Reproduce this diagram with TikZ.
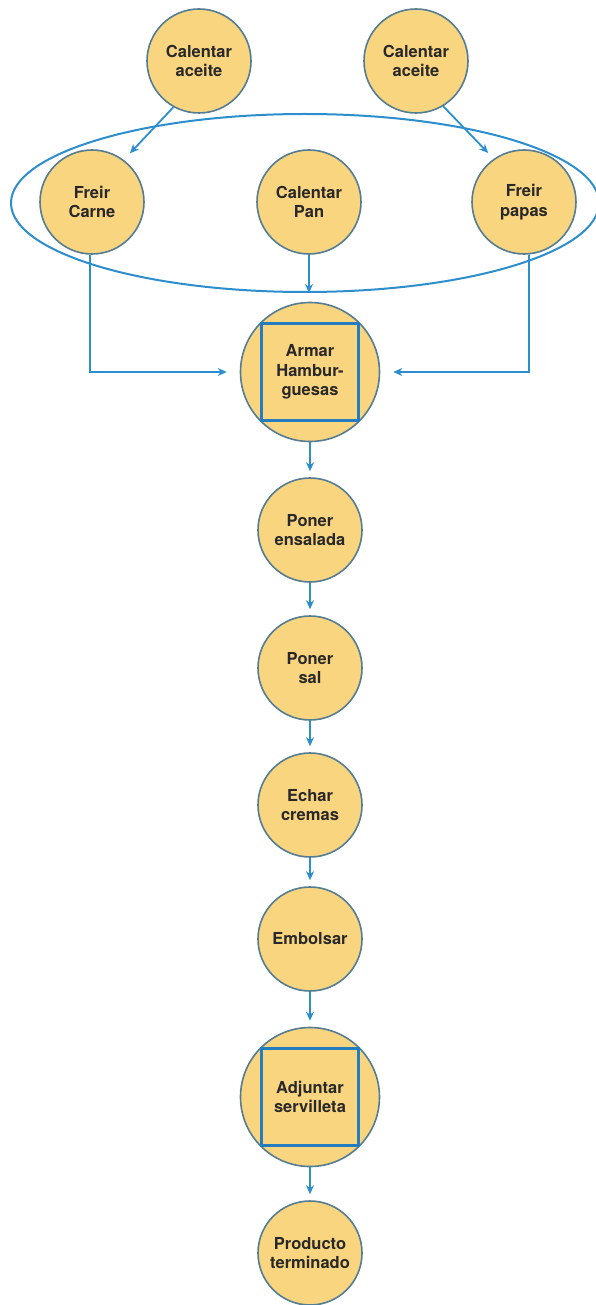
\documentclass[tikz,border=0pt]{standalone}
\usepackage{fontspec}
\setmainfont{TeX Gyre Heros}
\usetikzlibrary{shapes.geometric,arrows.meta}
\definecolor{fillc}{RGB}{249,213,128}
\definecolor{edgec}{RGB}{84,124,146}
\definecolor{linec}{RGB}{45,142,205}
\definecolor{sqc}{RGB}{35,125,190}
\definecolor{txtc}{RGB}{40,40,40}
\begin{document}
\begin{tikzpicture}[x=1pt,y=-1pt,
 proc/.style={circle,draw=edgec,fill=fillc,line width=1.6pt,minimum size=104pt,inner sep=0pt,align=center,font=\fontsize{16.5}{19.5}\selectfont\bfseries,text=txtc},
 bigproc/.style={proc,minimum size=139pt},
 sqbox/.style={rectangle,draw=sqc,line width=2.4pt,minimum size=97pt,inner sep=0pt},
 grpell/.style={ellipse,draw=linec,line width=2pt,minimum width=588pt,minimum height=178pt,inner sep=0pt},
 flow/.style={draw=linec,line width=1.8pt,-{Stealth[length=9pt,width=8pt]}},
]
\useasboundingbox (0,0) rectangle (596,1305);
% top
\node[proc] (cal1) at (199,61) {Calentar\\aceite};
\node[proc] (cal2) at (416,61) {Calentar\\aceite};
% group
\node[proc] (fc) at (92,202) {Freir\\Carne};
\node[proc] (pan) at (309,202) {Calentar\\Pan};
\node[proc] (fp) at (524,202) {Freir\\papas};
\node[grpell] (grp) at (305,203) {};
% chain
\node[bigproc] (arm) at (310,372) {Armar\\Hambur-\\guesas};
\node[sqbox] (armsq) at (310,372) {};
\node[proc] (ens) at (310,530) {Poner\\ensalada};
\node[proc] (sal) at (310,668) {Poner\\sal};
\node[proc] (cre) at (310,805) {Echar\\cremas};
\node[proc] (emb) at (310,939) {Embolsar};
\node[bigproc] (adj) at (310,1097) {Adjuntar\\servilleta};
\node[sqbox] (adjsq) at (310,1097) {};
\node[proc] (prod) at (310,1253) {Producto\\terminado};
% connectors
\draw[flow,shorten >=9pt] (cal1.241) -- (fc.53);
\draw[flow,shorten >=8pt] (cal2.301) -- (fp.125);
\draw[flow] (pan.south) -- (pan.south |- grp.south);
\draw[flow,shorten >=13pt] ([xshift=-2pt]fc.south) |- (arm.west);
\draw[flow,shorten >=13pt] ([xshift=5pt]fp.south) |- (arm.east);
\draw[flow,shorten >=6pt] (arm.south) -- (ens.north);
\draw[flow,shorten >=6pt] (ens.south) -- (sal.north);
\draw[flow,shorten >=6pt] (sal.south) -- (cre.north);
\draw[flow,shorten >=6pt] (cre.south) -- (emb.north);
\draw[flow,shorten >=6pt] (emb.south) -- (adj.north);
\draw[flow,shorten >=6pt] (adj.south) -- (prod.north);
\end{tikzpicture}
\end{document}
